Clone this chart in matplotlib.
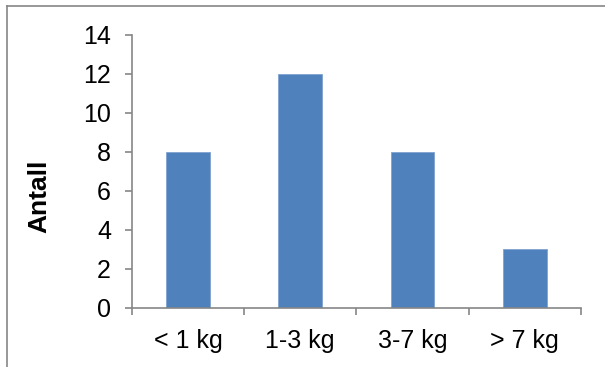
import numpy as np
import matplotlib.pyplot as plt
from matplotlib.lines import Line2D

categories = ['< 1 kg', '1-3 kg', '3-7 kg', '> 7 kg']
counts = [8, 12, 8, 3]
y_ticks = [0, 2, 4, 6, 8, 10, 12, 14]

plt.rcParams['font.family'] = ['Liberation Sans', 'DejaVu Sans']

axis_gray = '#868686'
bar_blue = '#4F81BD'

fig = plt.figure(figsize=(6.05, 3.67), dpi=100)
ax = fig.add_axes([0.218, 0.161, 0.742, 0.744])

x = np.arange(len(categories))
ax.bar(x, counts, width=0.39, color=bar_blue, edgecolor='#7FA3D0', linewidth=0.6)

ax.set_xlim(-0.5, len(categories) - 0.5)
ax.set_ylim(0, 14)
ax.set_yticks(y_ticks)
ax.set_yticklabels([str(v) for v in y_ticks], fontsize=18)

# tick marks sit on the category boundaries, labels in the middle
ax.set_xticks(np.arange(-0.5, len(categories), 1.0))
ax.set_xticklabels([])
ax.set_xticks(x, minor=True)
ax.set_xticklabels(categories, minor=True, fontsize=18)
ax.tick_params(axis='x', which='minor', length=0, pad=15)
ax.tick_params(axis='x', which='major', length=5, width=1.2, color=axis_gray, direction='out')
ax.tick_params(axis='y', length=5, width=1.2, color=axis_gray, direction='out', pad=10)

for side in ['top', 'right']:
    ax.spines[side].set_visible(False)
for side in ['left', 'bottom']:
    ax.spines[side].set_color(axis_gray)
    ax.spines[side].set_linewidth(1.2)

ax.set_ylabel('Antall', fontsize=19, fontweight='bold')
ax.yaxis.set_label_coords(-0.180, 0.407)

# outer chart frame (only top and left edges show)
fig.add_artist(Line2D([7 / 605, 7 / 605], [0, 1 - 6 / 367], transform=fig.transFigure,
                      color=axis_gray, linewidth=1.2))
fig.add_artist(Line2D([7 / 605, 1], [1 - 6 / 367, 1 - 6 / 367], transform=fig.transFigure,
                      color=axis_gray, linewidth=1.2))

fig.savefig('out.png', dpi=100)
